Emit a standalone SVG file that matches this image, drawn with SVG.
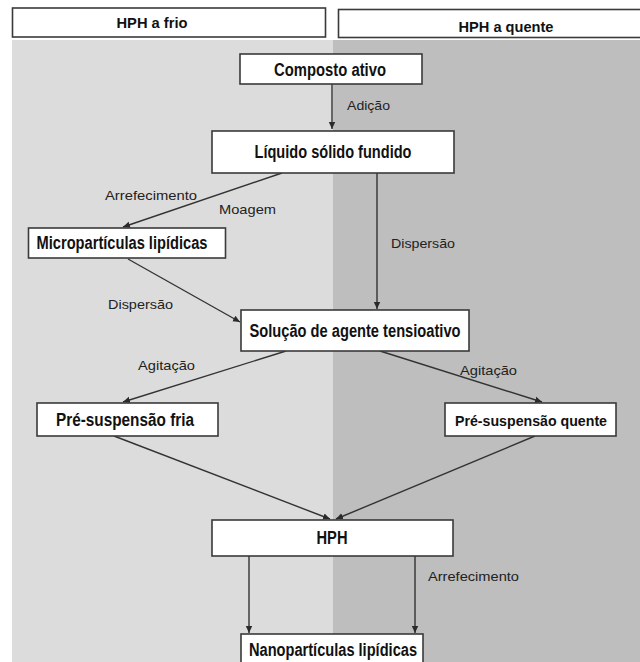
<svg xmlns="http://www.w3.org/2000/svg" width="640" height="662" viewBox="0 0 640 662">
<defs>
<marker id="ah" markerWidth="8" markerHeight="8" refX="7" refY="4" orient="auto" markerUnits="userSpaceOnUse">
<path d="M0,0.8 L7,4 L0,7.2 Z" fill="#2a2a2a"/>
</marker>
<style>
.box{fill:#ffffff;stroke:#3a3a3a;stroke-width:1.6}
.hdr{fill:#ffffff;stroke:#3a3a3a;stroke-width:1.6}
.t{font-family:"Liberation Sans",Arial,sans-serif;font-weight:bold;font-size:17.5px;fill:#111;text-anchor:middle}
.h{font-family:"Liberation Sans",Arial,sans-serif;font-weight:bold;font-size:15px;fill:#111;text-anchor:middle}
.l{font-family:"Liberation Sans",Arial,sans-serif;font-size:13px;fill:#222}
.c{fill:none;stroke:#333;stroke-width:1.4;marker-end:url(#ah)}
</style>
</defs>
<rect x="0" y="0" width="640" height="662" fill="#ffffff"/>
<rect x="12" y="40" width="321" height="622" fill="#dcdcdc"/>
<rect x="333" y="40" width="307" height="622" fill="#bebebe"/>

<g id="hdr-frio">
<rect class="hdr" x="12.5" y="8" width="313" height="29"/>
<text class="h" x="152" y="28" textLength="71" lengthAdjust="spacingAndGlyphs">HPH a frio</text>
</g>
<g id="hdr-quente">
<rect class="hdr" x="338.5" y="9.5" width="305" height="28"/>
<text class="h" x="506" y="32" textLength="95" lengthAdjust="spacingAndGlyphs">HPH a quente</text>
</g>

<g id="connectors">
<line class="c" x1="332" y1="84" x2="332" y2="129"/>
<line class="c" x1="282" y1="173" x2="123" y2="227"/>
<line class="c" x1="377" y1="173" x2="377" y2="309"/>
<line class="c" x1="128" y1="259" x2="240" y2="322"/>
<line class="c" x1="286" y1="351" x2="123" y2="402"/>
<line class="c" x1="380" y1="351" x2="542" y2="402"/>
<line class="c" x1="114" y1="436" x2="330" y2="519"/>
<line class="c" x1="535" y1="436" x2="336" y2="519"/>
<line class="c" x1="249" y1="556" x2="249" y2="633"/>
<line class="c" x1="415" y1="556" x2="415" y2="633"/>
<text class="l" x="347" y="110" textLength="43" lengthAdjust="spacingAndGlyphs">Adição</text>
<text class="l" x="105" y="200" textLength="92" lengthAdjust="spacingAndGlyphs">Arrefecimento</text>
<text class="l" x="219" y="214" textLength="57" lengthAdjust="spacingAndGlyphs">Moagem</text>
<text class="l" x="391" y="248" textLength="64" lengthAdjust="spacingAndGlyphs">Dispersão</text>
<text class="l" x="108" y="309" textLength="65" lengthAdjust="spacingAndGlyphs">Dispersão</text>
<text class="l" x="138" y="370" textLength="57" lengthAdjust="spacingAndGlyphs">Agitação</text>
<text class="l" x="460" y="375" textLength="57" lengthAdjust="spacingAndGlyphs">Agitação</text>
<text class="l" x="428" y="581" textLength="91" lengthAdjust="spacingAndGlyphs">Arrefecimento</text>
</g>

<g id="composto">
<rect class="box" x="240" y="54" width="182" height="30"/>
<text class="t" x="330" y="76" textLength="112" lengthAdjust="spacingAndGlyphs">Composto ativo</text>
</g>
<g id="liquido">
<rect class="box" x="212" y="131" width="242" height="42"/>
<text class="t" x="333" y="158" textLength="157" lengthAdjust="spacingAndGlyphs">Líquido sólido fundido</text>
</g>
<g id="micro">
<rect class="box" x="28.5" y="228" width="197" height="30"/>
<text class="t" x="122" y="249" textLength="171" lengthAdjust="spacingAndGlyphs">Micropartículas lipídicas</text>
</g>
<g id="solucao">
<rect class="box" x="241" y="310" width="228" height="41"/>
<text class="t" x="355" y="337" textLength="211" lengthAdjust="spacingAndGlyphs">Solução de agente tensioativo</text>
</g>
<g id="pre-fria">
<rect class="box" x="37" y="403" width="181" height="33"/>
<text class="t" x="125" y="426" textLength="138" lengthAdjust="spacingAndGlyphs">Pré-suspensão fria</text>
</g>
<g id="pre-quente">
<rect class="box" x="445" y="403" width="171" height="33"/>
<text class="t" x="531" y="426" font-size="15.5" textLength="152" lengthAdjust="spacingAndGlyphs" style="font-size:15.5px">Pré-suspensão quente</text>
</g>
<g id="hph">
<rect class="box" x="212" y="520" width="241" height="36"/>
<text class="t" x="332" y="544" textLength="31" lengthAdjust="spacingAndGlyphs">HPH</text>
</g>
<g id="nano">
<rect class="box" x="241" y="634" width="182" height="32"/>
<text class="t" x="333" y="656" textLength="168" lengthAdjust="spacingAndGlyphs">Nanopartículas lipídicas</text>
</g>
</svg>
